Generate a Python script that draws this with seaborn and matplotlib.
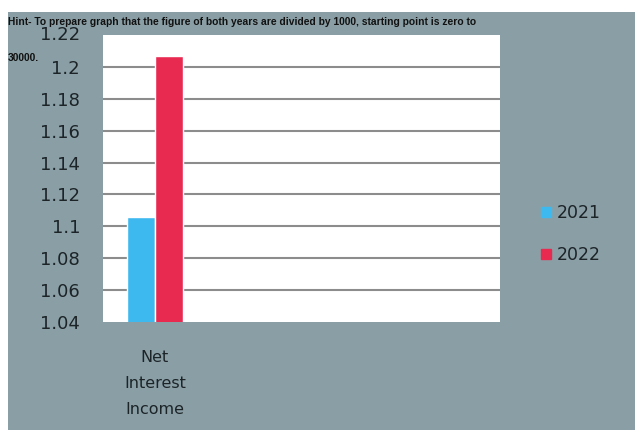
import matplotlib
matplotlib.use("Agg")
import matplotlib.pyplot as plt
from matplotlib.patches import Rectangle
from matplotlib.lines import Line2D
import seaborn as sns
import pandas as pd

categories = ["Net\nInterest\nIncome"]
years = ["2021", "2022"]
values_2021 = [1.106]
values_2022 = [1.207]
yticks = [1.04, 1.06, 1.08, 1.1, 1.12, 1.14, 1.16, 1.18, 1.2, 1.22]
ytick_labels = ["1.04", "1.06", "1.08", "1.1", "1.12", "1.14", "1.16", "1.18", "1.2", "1.22"]
title_line1 = "Hint- To prepare graph that the figure of both years are divided by 1000, starting point is zero to"
title_line2 = "30000."

colors = ["#3db9ef", "#e92a50"]
bg = "#8a9fa5"
txt = "#1c2428"

df = pd.DataFrame({
    "category": categories * 2,
    "year": [years[0]] * len(categories) + [years[1]] * len(categories),
    "value": values_2021 + values_2022,
})

sns.set_theme(style="white")
plt.rcParams["font.family"] = ["DejaVu Sans"]

fig = plt.figure(figsize=(6.35, 4.3), dpi=100)
fig.patch.set_facecolor("white")
fig.add_artist(Rectangle((8 / 635, 0), 1, 1 - 12 / 430, transform=fig.transFigure,
                         facecolor=bg, edgecolor="none", zorder=0))

ax = fig.add_axes([103 / 635, 1 - 322 / 430, (500 - 103) / 635, (322 - 35) / 430])
ax.set_facecolor("white")
sns.barplot(data=df, x="category", y="value", hue="year", palette=colors,
            ax=ax, width=0.8, saturation=1, legend=False, zorder=3)

ax.set_ylim(1.04, 1.22)
ax.set_xlim(-0.743, 4.93)
ax.set_yticks(yticks[:-1])
ax.set_yticklabels(ytick_labels[:-1])
for y in yticks[1:-1]:
    ax.axhline(y, color="#8c8c8c", lw=1.5, zorder=1)
for s in ax.spines.values():
    s.set_visible(False)
ax.set_xlabel("")
ax.set_ylabel("")
ax.tick_params(axis="y", length=0, pad=16.5, labelsize=13, labelcolor=txt)
ax.tick_params(axis="x", length=0, pad=20.5, labelsize=11.5, labelcolor=txt)
for lbl in ax.get_xticklabels():
    lbl.set_linespacing(1.9)

# 1.22 label at the top of the value axis, just under the hint text
ax.text(-16.5 / 72 * 100 / 397, 1.22, ytick_labels[-1], transform=ax.get_yaxis_transform(),
        ha="right", va="center", fontsize=13, color=txt, zorder=0)

handles = [Line2D([], [], marker="s", linestyle="none", markersize=7,
                  markerfacecolor=c, markeredgecolor=c) for c in colors]
fig.legend(handles, years, loc="upper left", bbox_to_anchor=(522 / 635, 1 - 188 / 430),
           frameon=False, fontsize=12.5, handletextpad=0.1, labelspacing=1.4,
           handlelength=1.0, labelcolor=txt)

title_font = ["Liberation Sans", "DejaVu Sans"]
fig.text(8 / 635, 1 - 22 / 430, title_line1, ha="left", va="center", fontsize=7.4,
         family=title_font, weight="bold", color="#111111")
fig.text(8 / 635, 1 - 58 / 430, title_line2, ha="left", va="center", fontsize=7.4,
         family=title_font, weight="bold", color="#111111")

fig.savefig("out.png", dpi=100, facecolor=fig.get_facecolor())
